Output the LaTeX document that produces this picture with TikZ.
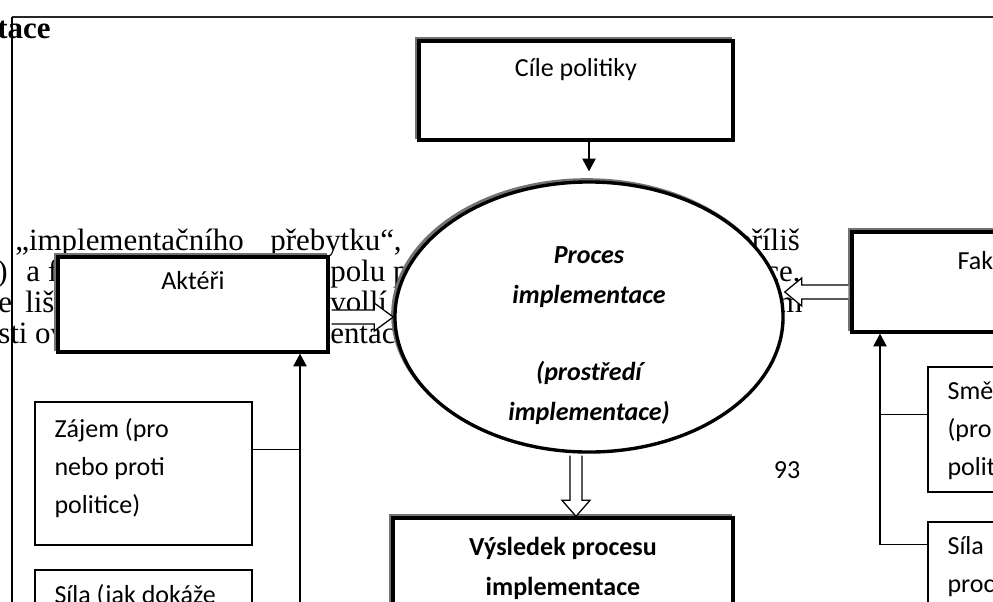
\documentclass[tikz,border=0pt]{standalone}
\usepackage{fontspec}
\setmainfont{Liberation Serif}
\newfontfamily\calibri{Carlito}
\usetikzlibrary{arrows.meta, positioning, calc, shapes.geometric}

\tikzset{
  thickbox/.style={draw=black, fill=white, line width=2.4pt, inner sep=0pt,
    preaction={draw=black!55, line width=2.2pt, transform canvas={shift={(-1.6pt,1.6pt)}}}},
  thinbox/.style={draw=black, fill=white, line width=1pt, inner sep=0pt},
  boxtext/.style={font=\calibri\fontsize{18.5}{27}\selectfont, inner sep=0pt},
  boldtext/.style={font=\calibri\bfseries\fontsize{18.5}{27}\selectfont, inner sep=0pt},
  proctext/.style={font=\calibri\bfseries\itshape\fontsize{18.5}{27}\selectfont, inner sep=0pt},
  bodytext/.style={font=\fontsize{22}{24}\selectfont, inner sep=0pt, anchor=base west},
  hollow/.style={draw=black, fill=white, line width=0.9pt},
  conn/.style={draw=black, line width=0.9pt},
  flowtip/.style={-{Triangle[length=9pt, width=9.5pt]}},
}

\begin{document}
\begin{tikzpicture}[x=0.025cm, y=-0.025cm]
  \clip (0,0) rectangle (993,601);

  % page frame and heading
  \draw[line width=1.5pt, black!85] (12,17) -- (1000,17);
  \draw[line width=1.5pt] (12,17) -- (12,610);
  \node[font=\bfseries\fontsize{22}{24}\selectfont, inner sep=0pt, anchor=base west] (head) at (-3,38) {tace};

  % body text under the diagram
  \node[bodytext] (t1a) at (15,250) {„implementačního};
  \node[bodytext] (t1b) at (270,250) {přebytku“,};
  \node[bodytext] (t1c) at (736,250) {příliš};
  \node[bodytext] (t2a) at (-3,281) {)};
  \node[bodytext] (t2b) at (26,281) {a f};
  \node[bodytext] (t2c) at (330,281) {polu p};
  \node[bodytext] (t2d) at (765,281) {ce,};
  \node[bodytext] (t3a) at (-2,312) {e};
  \node[bodytext] (t3b) at (25,312) {liš};
  \node[bodytext] (t3c) at (330,312) {vollí};
  \node[bodytext] (t3d) at (778,312) {m};
  \node[bodytext] (t4a) at (-2,343) {sti ov};
  \node[bodytext] (t4b) at (330,343) {entac};

  %%%%%%%%%%%%%%%%%%%%%%%%%%%%%%%%%%%%%%%%%%%%%%%%%%%%%%%%%%%%%%%%%%%%%

  \node[thickbox, minimum width=7.85cm, minimum height=2.475cm] (cile) at (576,90.5) {};
  \node[boxtext, anchor=base] (cilet) at ($(cile.north)+(0,37)$) {Cíle politiky};

  \node[thickbox, ellipse, minimum width=9.7cm, minimum height=6.75cm] (proc) at (589,317) {};
  \begin{scope}
    \clip (390,175) rectangle (790,424);
    \node[proctext, anchor=base] (proc1) at (589,263) {Proces};
    \node[proctext, anchor=base] (proc2) at (589,303) {implementace};
    \node[proctext, anchor=base] (proc3) at (589,380) {(prostředí};
    \node[proctext, anchor=base] (proc4) at (589,420) {implementace)};
  \end{scope}

  \node[thickbox, minimum width=6.75cm, minimum height=2.375cm] (akt) at (193,304.5) {};
  \node[boxtext, anchor=base] (aktt) at ($(akt.north)+(0,34)$) {Aktéři};

  \node[thickbox, minimum width=7.25cm, minimum height=2.5cm] (fak) at (997,282) {};
  \node[boxtext, anchor=base] (fakt) at ($(fak.north)+(0,39)$) {Faktory};

  \node[thickbox, minimum width=8.5cm, minimum height=2.5cm] (res) at (563,568) {};
  \node[boldtext, anchor=base] (res1) at ($(res.north)+(0,39)$) {Výsledek procesu};
  \node[boldtext, anchor=base] (res2) at ($(res.north)+(0,79)$) {implementace};

  \node at (787,470) [boxtext] (page) {93};

  %%%%%%%%%%%%%%%%%%%%%%%%%%%%%%%%%%%%%%%%%%%%%%%%%%%%%%%%%%%%%%%%%%%%%

  \node[thinbox, minimum width=5.425cm, minimum height=3.575cm] (zaj) at (143.5,473.5) {};
  \node[boxtext, anchor=base west] (zaj1) at ($(zaj.north west)+(20,36)$) {Zájem (pro};
  \node[boxtext, anchor=base west] (zaj2) at ($(zaj.north west)+(20,74)$) {nebo proti};
  \node[boxtext, anchor=base west] (zaj3) at ($(zaj.north west)+(20,112)$) {politice)};

  \node[thinbox, minimum width=5.425cm, minimum height=3.575cm] (sil1) at (143.5,641.5) {};
  \node[boxtext, anchor=base west] (sil1a) at ($(sil1.north west)+(20,34)$) {Síla (jak dokáže};

  \node[thinbox, minimum width=5.425cm, minimum height=3.125cm] (sme) at (1036.5,429.5) {};
  \node[boxtext, anchor=base west] (sme1) at ($(sme.north west)+(20,33)$) {Směr};
  \node[boxtext, anchor=base west] (sme2) at ($(sme.north west)+(20,71)$) {(pro};
  \node[boxtext, anchor=base west] (sme3) at ($(sme.north west)+(20,109)$) {politice)};

  \node[thinbox, minimum width=5.425cm, minimum height=3.125cm] (sil2) at (1036.5,584.5) {};
  \node[boxtext, anchor=base west] (sil2a) at ($(sil2.north west)+(20,33)$) {Síla};
  \node[boxtext, anchor=base west] (sil2b) at ($(sil2.north west)+(20,71)$) {procesu};

  %%%%%%%%%%%%%%%%%%%%%%%%%%%%%%%%%%%%%%%%%%%%%%%%%%%%%%%%%%%%%%%%%%%%%

  \draw[conn, flowtip] (proc.north |- cile.south) -- ($(proc.north)+(0,-9)$);

  \coordinate (lbus) at (300,610);
  \coordinate (zajb) at ($(zaj.north east)+(0,48)$);
  \draw[conn, flowtip] (lbus) -- (lbus |- akt.south);
  \draw[conn] (zajb) -- (zajb -| lbus);

  \coordinate (rbus) at (880,0);
  \coordinate (smeb) at ($(sme.north west)+(0,48)$);
  \coordinate (silb) at ($(sil2.north west)+(0,23)$);
  \draw[conn, flowtip] (silb) -| (rbus |- fak.south);
  \draw[conn] (smeb) -- (smeb -| rbus);

  % hollow arrows into the process
  \coordinate (a1) at ($(akt.east |- proc.west)+(2,0)$);
  \coordinate (a2) at (proc.west);
  \filldraw[hollow] ($(a1)+(0,-7)$) -- ($(a2)+(-19,-7)$) -- ($(a2)+(-19,-14)$) -- (a2)
    -- ($(a2)+(-19,14)$) -- ($(a2)+(-19,7)$) -- ($(a1)+(0,7)$);

  \coordinate (f1) at ($(fak.west)+(-2,10)$);
  \coordinate (f2) at (proc.east |- f1);
  \filldraw[hollow] ($(f1)+(0,-7)$) -- ($(f2)+(17,-7)$) -- ($(f2)+(17,-14)$) -- (f2)
    -- ($(f2)+(17,14)$) -- ($(f2)+(17,7)$) -- ($(f1)+(0,7)$);

  \coordinate (r1) at ($(proc.south)+(-13,2)$);
  \coordinate (r2) at (r1 |- res.north);
  \filldraw[hollow] ($(r1)+(-6,0)$) -- ($(r2)+(-6,-16)$) -- ($(r2)+(-14,-16)$) -- (r2)
    -- ($(r2)+(14,-16)$) -- ($(r2)+(6,-16)$) -- ($(r1)+(6,0)$);

\end{tikzpicture}
\end{document}
